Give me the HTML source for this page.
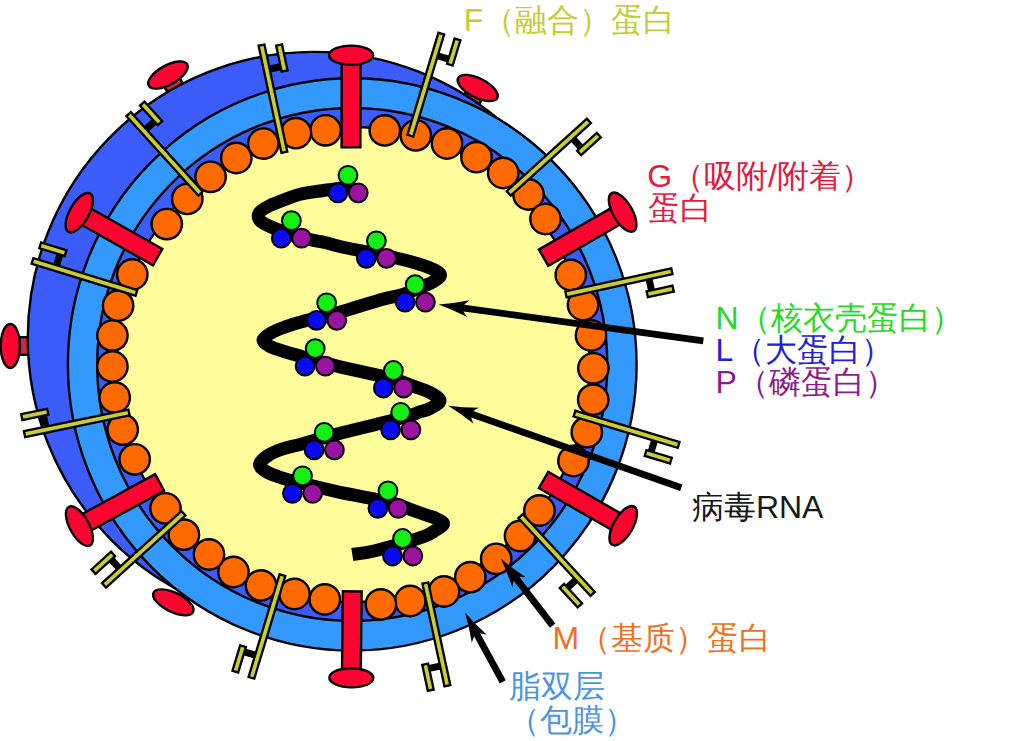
<!DOCTYPE html><html><head><meta charset="utf-8"><style>html,body{margin:0;padding:0;background:#fff;}svg{display:block;}</style></head><body><svg width="1024" height="741" viewBox="0 0 1024 741"><rect width="1024" height="741" fill="#fff"/><g transform="translate(168.0,75.0) rotate(-119.00)"><rect x="-30" y="-8.8" width="30" height="17.6" fill="#c8284a" stroke="#000" stroke-width="2.4"/><ellipse cx="0" cy="0" rx="9.6" ry="22" fill="#fa0530" stroke="#000" stroke-width="2.4"/></g><g transform="translate(477.7,88.0) rotate(-63.00)"><rect x="-30" y="-8.8" width="30" height="17.6" fill="#c8284a" stroke="#000" stroke-width="2.4"/><ellipse cx="0" cy="0" rx="9.6" ry="22" fill="#fa0530" stroke="#000" stroke-width="2.4"/></g><g transform="translate(10.3,346.0) rotate(180.00)"><rect x="-30" y="-8.8" width="30" height="17.6" fill="#c8284a" stroke="#000" stroke-width="2.4"/><ellipse cx="0" cy="0" rx="9.6" ry="22" fill="#fa0530" stroke="#000" stroke-width="2.4"/></g><g transform="translate(173.3,602.3) rotate(116.00)"><ellipse cx="0" cy="0" rx="9.6" ry="22" fill="#fa0530" stroke="#000" stroke-width="2.4"/></g><circle cx="313.9" cy="338.0" r="286.1" fill="#3c5cfa" stroke="#000" stroke-width="2.4"/><ellipse cx="352.25" cy="364.45" rx="284.35" ry="286.15" fill="#3399ff" stroke="#000" stroke-width="2.4"/><ellipse cx="352.25" cy="364.45" rx="255.05" ry="256.5" fill="#3c5cfa" stroke="#000" stroke-width="2.4"/><circle cx="352.25" cy="364.45" r="237.5" fill="#fffc9c" stroke="#000" stroke-width="2.4"/><circle cx="325.6" cy="130.3" r="15.2" fill="#ff6a00" stroke="#000" stroke-width="2.4"/><circle cx="384.8" cy="130.4" r="15.2" fill="#ff6a00" stroke="#000" stroke-width="2.4"/><circle cx="415.8" cy="135.3" r="15.2" fill="#ff6a00" stroke="#000" stroke-width="2.4"/><circle cx="447" cy="143.5" r="15.2" fill="#ff6a00" stroke="#000" stroke-width="2.4"/><circle cx="476.5" cy="157.2" r="15.2" fill="#ff6a00" stroke="#000" stroke-width="2.4"/><circle cx="503.2" cy="173" r="15.2" fill="#ff6a00" stroke="#000" stroke-width="2.4"/><circle cx="528.5" cy="194.5" r="15.2" fill="#ff6a00" stroke="#000" stroke-width="2.4"/><circle cx="545.5" cy="219" r="15.2" fill="#ff6a00" stroke="#000" stroke-width="2.4"/><circle cx="570.8" cy="275" r="15.2" fill="#ff6a00" stroke="#000" stroke-width="2.4"/><circle cx="583" cy="305" r="15.2" fill="#ff6a00" stroke="#000" stroke-width="2.4"/><circle cx="591" cy="335.5" r="15.2" fill="#ff6a00" stroke="#000" stroke-width="2.4"/><circle cx="593.4" cy="368.3" r="15.2" fill="#ff6a00" stroke="#000" stroke-width="2.4"/><circle cx="593.2" cy="399.7" r="15.2" fill="#ff6a00" stroke="#000" stroke-width="2.4"/><circle cx="586.8" cy="432.2" r="15.2" fill="#ff6a00" stroke="#000" stroke-width="2.4"/><circle cx="573.5" cy="461" r="15.2" fill="#ff6a00" stroke="#000" stroke-width="2.4"/><circle cx="539.4" cy="510.5" r="15.2" fill="#ff6a00" stroke="#000" stroke-width="2.4"/><circle cx="520" cy="536" r="15.2" fill="#ff6a00" stroke="#000" stroke-width="2.4"/><circle cx="496.2" cy="558.8" r="15.2" fill="#ff6a00" stroke="#000" stroke-width="2.4"/><circle cx="470.3" cy="577.2" r="15.2" fill="#ff6a00" stroke="#000" stroke-width="2.4"/><circle cx="444" cy="591.5" r="15.2" fill="#ff6a00" stroke="#000" stroke-width="2.4"/><circle cx="410.2" cy="601" r="15.2" fill="#ff6a00" stroke="#000" stroke-width="2.4"/><circle cx="380.9" cy="604.4" r="15.2" fill="#ff6a00" stroke="#000" stroke-width="2.4"/><circle cx="324.8" cy="599.4" r="15.2" fill="#ff6a00" stroke="#000" stroke-width="2.4"/><circle cx="294.5" cy="594" r="15.2" fill="#ff6a00" stroke="#000" stroke-width="2.4"/><circle cx="261" cy="585.4" r="15.2" fill="#ff6a00" stroke="#000" stroke-width="2.4"/><circle cx="233.5" cy="572" r="15.2" fill="#ff6a00" stroke="#000" stroke-width="2.4"/><circle cx="209" cy="554.5" r="15.2" fill="#ff6a00" stroke="#000" stroke-width="2.4"/><circle cx="183.9" cy="534.7" r="15.2" fill="#ff6a00" stroke="#000" stroke-width="2.4"/><circle cx="165.5" cy="508.3" r="15.2" fill="#ff6a00" stroke="#000" stroke-width="2.4"/><circle cx="134.7" cy="459.3" r="15.2" fill="#ff6a00" stroke="#000" stroke-width="2.4"/><circle cx="122.7" cy="429.6" r="15.2" fill="#ff6a00" stroke="#000" stroke-width="2.4"/><circle cx="114.7" cy="397.5" r="15.2" fill="#ff6a00" stroke="#000" stroke-width="2.4"/><circle cx="112.4" cy="366.5" r="15.2" fill="#ff6a00" stroke="#000" stroke-width="2.4"/><circle cx="112.4" cy="335.6" r="15.2" fill="#ff6a00" stroke="#000" stroke-width="2.4"/><circle cx="118.1" cy="305.7" r="15.2" fill="#ff6a00" stroke="#000" stroke-width="2.4"/><circle cx="132.3" cy="274.5" r="15.2" fill="#ff6a00" stroke="#000" stroke-width="2.4"/><circle cx="166.8" cy="224.1" r="15.2" fill="#ff6a00" stroke="#000" stroke-width="2.4"/><circle cx="187.3" cy="198.9" r="15.2" fill="#ff6a00" stroke="#000" stroke-width="2.4"/><circle cx="210.6" cy="176.8" r="15.2" fill="#ff6a00" stroke="#000" stroke-width="2.4"/><circle cx="236.3" cy="158" r="15.2" fill="#ff6a00" stroke="#000" stroke-width="2.4"/><circle cx="263.3" cy="143.6" r="15.2" fill="#ff6a00" stroke="#000" stroke-width="2.4"/><circle cx="295.9" cy="133.2" r="15.2" fill="#ff6a00" stroke="#000" stroke-width="2.4"/><g transform="translate(201.0,194.0) rotate(-132.19)"><rect x="81.5" y="2" width="7" height="13.2" fill="#000"/><rect x="0.6" y="-3.0" width="107.2" height="6.0" fill="#c8cd34" stroke="#000" stroke-width="2.3"/><rect x="80" y="14.2" width="26.5" height="6.0" fill="#c8cd34" stroke="#000" stroke-width="2.3"/></g><g transform="translate(284.5,152.8) rotate(-102.06)"><rect x="81.5" y="2" width="7" height="13.2" fill="#000"/><rect x="0.6" y="-3.0" width="109.5" height="6.0" fill="#c8cd34" stroke="#000" stroke-width="2.3"/><rect x="80" y="14.2" width="26.5" height="6.0" fill="#c8cd34" stroke="#000" stroke-width="2.3"/></g><g transform="translate(410.2,136.3) rotate(-73.16)"><rect x="81.5" y="2" width="7" height="13.2" fill="#000"/><rect x="0.6" y="-3.0" width="106.7" height="6.0" fill="#c8cd34" stroke="#000" stroke-width="2.3"/><rect x="80" y="14.2" width="26.5" height="6.0" fill="#c8cd34" stroke="#000" stroke-width="2.3"/></g><g transform="translate(508.3,193.9) rotate(-42.18)"><rect x="81.5" y="2" width="7" height="13.2" fill="#000"/><rect x="0.6" y="-3.0" width="108.2" height="6.0" fill="#c8cd34" stroke="#000" stroke-width="2.3"/><rect x="80" y="14.2" width="26.5" height="6.0" fill="#c8cd34" stroke="#000" stroke-width="2.3"/></g><g transform="translate(565.4,294.5) rotate(-12.30)"><rect x="81.5" y="2" width="7" height="13.2" fill="#000"/><rect x="0.6" y="-3.0" width="108.4" height="6.0" fill="#c8cd34" stroke="#000" stroke-width="2.3"/><rect x="80" y="14.2" width="26.5" height="6.0" fill="#c8cd34" stroke="#000" stroke-width="2.3"/></g><g transform="translate(573.9,413.5) rotate(16.72)"><rect x="81.5" y="2" width="7" height="13.2" fill="#000"/><rect x="0.6" y="-3.0" width="108.8" height="6.0" fill="#c8cd34" stroke="#000" stroke-width="2.3"/><rect x="80" y="14.2" width="26.5" height="6.0" fill="#c8cd34" stroke="#000" stroke-width="2.3"/></g><g transform="translate(520.2,515.6) rotate(47.23)"><rect x="81.5" y="2" width="7" height="13.2" fill="#000"/><rect x="0.6" y="-3.0" width="106.1" height="6.0" fill="#c8cd34" stroke="#000" stroke-width="2.3"/><rect x="80" y="14.2" width="26.5" height="6.0" fill="#c8cd34" stroke="#000" stroke-width="2.3"/></g><g transform="translate(425.2,582.4) rotate(77.88)"><rect x="81.5" y="2" width="7" height="13.2" fill="#000"/><rect x="0.6" y="-3.0" width="105.2" height="6.0" fill="#c8cd34" stroke="#000" stroke-width="2.3"/><rect x="80" y="14.2" width="26.5" height="6.0" fill="#c8cd34" stroke="#000" stroke-width="2.3"/></g><g transform="translate(282.6,574.6) rotate(106.81)"><rect x="81.5" y="2" width="7" height="13.2" fill="#000"/><rect x="0.6" y="-3.0" width="107.2" height="6.0" fill="#c8cd34" stroke="#000" stroke-width="2.3"/><rect x="80" y="14.2" width="26.5" height="6.0" fill="#c8cd34" stroke="#000" stroke-width="2.3"/></g><g transform="translate(183.9,512.9) rotate(137.77)"><rect x="81.5" y="2" width="7" height="13.2" fill="#000"/><rect x="0.6" y="-3.0" width="107.3" height="6.0" fill="#c8cd34" stroke="#000" stroke-width="2.3"/><rect x="80" y="14.2" width="26.5" height="6.0" fill="#c8cd34" stroke="#000" stroke-width="2.3"/></g><g transform="translate(129.6,412.4) rotate(168.32)"><rect x="81.5" y="2" width="7" height="13.2" fill="#000"/><rect x="0.6" y="-3.0" width="106.7" height="6.0" fill="#c8cd34" stroke="#000" stroke-width="2.3"/><rect x="80" y="14.2" width="26.5" height="6.0" fill="#c8cd34" stroke="#000" stroke-width="2.3"/></g><g transform="translate(137.0,293.0) rotate(-162.94)"><rect x="81.5" y="2" width="7" height="13.2" fill="#000"/><rect x="0.6" y="-3.0" width="108.7" height="6.0" fill="#c8cd34" stroke="#000" stroke-width="2.3"/><rect x="80" y="14.2" width="26.5" height="6.0" fill="#c8cd34" stroke="#000" stroke-width="2.3"/></g><g transform="translate(351.0,147.4) rotate(-89.94)"><rect x="0" y="-9.4" width="92.2" height="18.8" fill="#fa0530" stroke="#000" stroke-width="2.4"/><ellipse cx="92.2" cy="0" rx="9.6" ry="22" fill="#fa0530" stroke="#000" stroke-width="2.4"/></g><g transform="translate(543.6,257.7) rotate(-29.92)"><rect x="0" y="-9.4" width="91.2" height="18.8" fill="#fa0530" stroke="#000" stroke-width="2.4"/><ellipse cx="91.2" cy="0" rx="9.6" ry="22" fill="#fa0530" stroke="#000" stroke-width="2.4"/></g><g transform="translate(543.6,480.0) rotate(29.86)"><rect x="0" y="-9.4" width="91.8" height="18.8" fill="#fa0530" stroke="#000" stroke-width="2.4"/><ellipse cx="91.8" cy="0" rx="9.6" ry="22" fill="#fa0530" stroke="#000" stroke-width="2.4"/></g><g transform="translate(352.3,591.4) rotate(90.66)"><rect x="0" y="-9.4" width="86.4" height="18.8" fill="#fa0530" stroke="#000" stroke-width="2.4"/><ellipse cx="86.4" cy="0" rx="9.6" ry="22" fill="#fa0530" stroke="#000" stroke-width="2.4"/></g><g transform="translate(159.6,482.5) rotate(151.41)"><rect x="0" y="-9.4" width="91.3" height="18.8" fill="#fa0530" stroke="#000" stroke-width="2.4"/><ellipse cx="91.3" cy="0" rx="9.6" ry="22" fill="#fa0530" stroke="#000" stroke-width="2.4"/></g><g transform="translate(157.7,257.1) rotate(-150.48)"><rect x="0" y="-9.4" width="90.1" height="18.8" fill="#fa0530" stroke="#000" stroke-width="2.4"/><ellipse cx="90.1" cy="0" rx="9.6" ry="22" fill="#fa0530" stroke="#000" stroke-width="2.4"/></g><path d="M352.0,186.5 C347.5,187.1 333.7,188.9 325.0,190.2 C316.3,191.5 306.7,192.6 300.0,194.2 C293.3,195.8 290.0,197.6 285.0,199.5 C280.0,201.4 274.0,203.6 270.0,205.5 C266.0,207.4 263.0,209.2 261.0,211.0 C259.0,212.8 258.2,214.2 258.2,216.0 C258.2,217.8 259.0,219.8 261.0,221.5 C263.0,223.2 266.0,224.7 270.0,226.5 C274.0,228.3 280.0,230.7 285.0,232.5 C290.0,234.3 293.3,235.8 300.0,237.5 C306.7,239.2 318.0,240.9 325.0,242.5 C332.0,244.1 330.2,244.4 342.0,247.0 C353.8,249.6 383.4,255.2 396.0,258.0 C408.6,260.8 411.8,261.9 417.8,263.7 C423.8,265.5 428.2,266.9 432.0,268.8 C435.8,270.7 440.3,272.8 440.5,275.0 C440.7,277.2 435.7,280.0 433.0,281.8 C430.3,283.6 429.3,283.7 424.4,285.8 C419.5,287.9 411.0,291.9 403.6,294.3 C396.2,296.7 391.1,296.9 380.0,300.0 C368.9,303.1 350.2,309.4 337.1,313.0 C324.1,316.6 310.4,319.4 301.7,321.7 C293.0,324.0 290.1,325.1 285.0,327.0 C279.9,328.9 274.7,330.8 271.0,333.0 C267.3,335.2 263.2,337.8 263.0,340.0 C262.8,342.2 266.7,344.7 270.0,346.5 C273.3,348.3 277.5,349.3 282.8,351.0 C288.1,352.7 292.6,354.0 301.7,356.5 C310.8,359.0 322.3,362.5 337.1,366.1 C351.9,369.7 378.0,375.0 390.6,378.3 C403.2,381.6 406.6,383.8 413.0,386.1 C419.4,388.4 424.5,389.6 429.0,392.0 C433.5,394.4 439.8,397.8 440.0,400.5 C440.2,403.2 433.7,406.5 430.0,408.5 C426.3,410.5 421.3,411.3 418.0,412.5 C414.7,413.7 415.4,414.0 410.0,415.6 C404.6,417.2 397.8,418.9 385.7,422.0 C373.6,425.1 351.1,430.4 337.1,434.1 C323.1,437.8 310.8,441.5 301.7,444.0 C292.6,446.5 288.4,447.0 282.8,448.9 C277.2,450.8 271.9,452.9 268.0,455.5 C264.1,458.1 259.8,461.6 259.5,464.3 C259.2,467.0 262.9,469.4 266.0,471.5 C269.1,473.6 273.7,475.1 278.0,476.6 C282.3,478.1 282.2,478.2 292.0,480.7 C301.8,483.2 320.3,488.0 336.7,491.6 C353.1,495.2 378.1,499.3 390.4,502.3 C402.7,505.3 404.4,507.3 410.3,509.4 C416.2,511.5 421.7,513.5 426.0,515.0 C430.3,516.5 433.1,517.0 436.0,518.5 C438.9,520.0 443.5,521.8 443.5,523.7 C443.5,525.6 439.6,527.8 436.0,530.0 C432.4,532.2 432.1,533.8 422.0,537.2 C411.9,540.7 386.8,547.8 375.2,550.7 C363.6,553.6 356.1,553.9 352.3,554.5" fill="none" stroke="#000" stroke-width="13"/><circle cx="337.9" cy="192.8" r="9.4" fill="#0a0af0" stroke="#000" stroke-width="2"/><circle cx="358.2" cy="192.8" r="9.4" fill="#9a12a0" stroke="#000" stroke-width="2"/><circle cx="348.0" cy="175.3" r="9.4" fill="#14f014" stroke="#000" stroke-width="2"/><circle cx="281.3" cy="238.2" r="9.4" fill="#0a0af0" stroke="#000" stroke-width="2"/><circle cx="301.6" cy="238.2" r="9.4" fill="#9a12a0" stroke="#000" stroke-width="2"/><circle cx="291.4" cy="220.7" r="9.4" fill="#14f014" stroke="#000" stroke-width="2"/><circle cx="366.3" cy="258.3" r="9.4" fill="#0a0af0" stroke="#000" stroke-width="2"/><circle cx="386.6" cy="258.3" r="9.4" fill="#9a12a0" stroke="#000" stroke-width="2"/><circle cx="376.4" cy="240.8" r="9.4" fill="#14f014" stroke="#000" stroke-width="2"/><circle cx="405.1" cy="302.1" r="9.4" fill="#0a0af0" stroke="#000" stroke-width="2"/><circle cx="425.4" cy="302.1" r="9.4" fill="#9a12a0" stroke="#000" stroke-width="2"/><circle cx="415.2" cy="284.6" r="9.4" fill="#14f014" stroke="#000" stroke-width="2"/><circle cx="316.5" cy="320.3" r="9.4" fill="#0a0af0" stroke="#000" stroke-width="2"/><circle cx="336.8" cy="320.3" r="9.4" fill="#9a12a0" stroke="#000" stroke-width="2"/><circle cx="326.6" cy="302.8" r="9.4" fill="#14f014" stroke="#000" stroke-width="2"/><circle cx="305.1" cy="366.1" r="9.4" fill="#0a0af0" stroke="#000" stroke-width="2"/><circle cx="325.4" cy="366.1" r="9.4" fill="#9a12a0" stroke="#000" stroke-width="2"/><circle cx="315.2" cy="348.6" r="9.4" fill="#14f014" stroke="#000" stroke-width="2"/><circle cx="383.3" cy="388.0" r="9.4" fill="#0a0af0" stroke="#000" stroke-width="2"/><circle cx="403.6" cy="388.0" r="9.4" fill="#9a12a0" stroke="#000" stroke-width="2"/><circle cx="393.4" cy="370.5" r="9.4" fill="#14f014" stroke="#000" stroke-width="2"/><circle cx="390.6" cy="429.8" r="9.4" fill="#0a0af0" stroke="#000" stroke-width="2"/><circle cx="410.9" cy="429.8" r="9.4" fill="#9a12a0" stroke="#000" stroke-width="2"/><circle cx="400.7" cy="412.3" r="9.4" fill="#14f014" stroke="#000" stroke-width="2"/><circle cx="314.1" cy="449.9" r="9.4" fill="#0a0af0" stroke="#000" stroke-width="2"/><circle cx="334.4" cy="449.9" r="9.4" fill="#9a12a0" stroke="#000" stroke-width="2"/><circle cx="324.2" cy="432.4" r="9.4" fill="#14f014" stroke="#000" stroke-width="2"/><circle cx="292.4" cy="493.3" r="9.4" fill="#0a0af0" stroke="#000" stroke-width="2"/><circle cx="312.7" cy="493.3" r="9.4" fill="#9a12a0" stroke="#000" stroke-width="2"/><circle cx="302.5" cy="475.8" r="9.4" fill="#14f014" stroke="#000" stroke-width="2"/><circle cx="377.9" cy="508.3" r="9.4" fill="#0a0af0" stroke="#000" stroke-width="2"/><circle cx="398.2" cy="508.3" r="9.4" fill="#9a12a0" stroke="#000" stroke-width="2"/><circle cx="388.0" cy="490.8" r="9.4" fill="#14f014" stroke="#000" stroke-width="2"/><circle cx="392.5" cy="556.0" r="9.4" fill="#0a0af0" stroke="#000" stroke-width="2"/><circle cx="412.8" cy="556.0" r="9.4" fill="#9a12a0" stroke="#000" stroke-width="2"/><circle cx="402.6" cy="538.5" r="9.4" fill="#14f014" stroke="#000" stroke-width="2"/><g transform="translate(438.6,304.6) rotate(7.81)"><rect x="20" y="-3.4" width="247.2" height="6.8" fill="#000"/><path d="M0,0 Q14,-3 30,-8.5 Q25,-4 24,0 Q25,4 30,8.5 Q14,3 0,0Z" fill="#000"/></g><g transform="translate(448.2,405.8) rotate(19.38)"><rect x="20" y="-3.4" width="227.1" height="6.8" fill="#000"/><path d="M0,0 Q14,-3 30,-8.5 Q25,-4 24,0 Q25,4 30,8.5 Q14,3 0,0Z" fill="#000"/></g><g transform="translate(500.8,558.6) rotate(52.29)"><rect x="20" y="-3.4" width="64.7" height="6.8" fill="#000"/><path d="M0,0 Q14,-3 30,-8.5 Q25,-4 24,0 Q25,4 30,8.5 Q14,3 0,0Z" fill="#000"/></g><g transform="translate(465.0,612.5) rotate(61.46)"><rect x="20" y="-3.4" width="59.1" height="6.8" fill="#000"/><path d="M0,0 Q14,-3 30,-8.5 Q25,-4 24,0 Q25,4 30,8.5 Q14,3 0,0Z" fill="#000"/></g><text x="473.58 499.35 531.35 563.35 595.35 627.35 659.35" y="30.8" font-family="Liberation Sans, sans-serif" font-size="32" text-anchor="middle" fill="#c4cc34">F（融合）蛋白</text><text x="659.64 688.09 720.09 752.09 772.54 792.98 824.98 856.98" y="186.6" font-family="Liberation Sans, sans-serif" font-size="32" text-anchor="middle" fill="#e41a3c">G（吸附/附着）</text><text x="663.80 695.80" y="219.4" font-family="Liberation Sans, sans-serif" font-size="32" text-anchor="middle" fill="#e41a3c">蛋白</text><text x="726.95 754.51 786.51 818.51 850.51 882.51 914.51 946.51" y="328.6" font-family="Liberation Sans, sans-serif" font-size="32" text-anchor="middle" fill="#22dc22">N（核衣壳蛋白）</text><text x="724.30 749.20 781.20 813.20 845.20 877.20" y="360.9" font-family="Liberation Sans, sans-serif" font-size="32" text-anchor="middle" fill="#2020dc">L（大蛋白）</text><text x="726.07 752.74 784.74 816.74 848.74 880.74" y="393.3" font-family="Liberation Sans, sans-serif" font-size="32" text-anchor="middle" fill="#8c1c8c">P（磷蛋白）</text><text x="707.90 739.90 767.45 790.57 812.79" y="518" font-family="Liberation Sans, sans-serif" font-size="32" text-anchor="middle" fill="#181818">病毒RNA</text><text x="565.73 595.06 627.06 659.06 691.06 723.06 755.06" y="648.8" font-family="Liberation Sans, sans-serif" font-size="32" text-anchor="middle" fill="#f07020">M（基质）蛋白</text><text x="524.80 556.80 588.80" y="697.2" font-family="Liberation Sans, sans-serif" font-size="32" text-anchor="middle" fill="#4a94e4">脂双层</text><text x="523.80 555.80 587.80 619.80" y="730.7" font-family="Liberation Sans, sans-serif" font-size="32" text-anchor="middle" fill="#4a94e4">（包膜）</text></svg></body></html>
